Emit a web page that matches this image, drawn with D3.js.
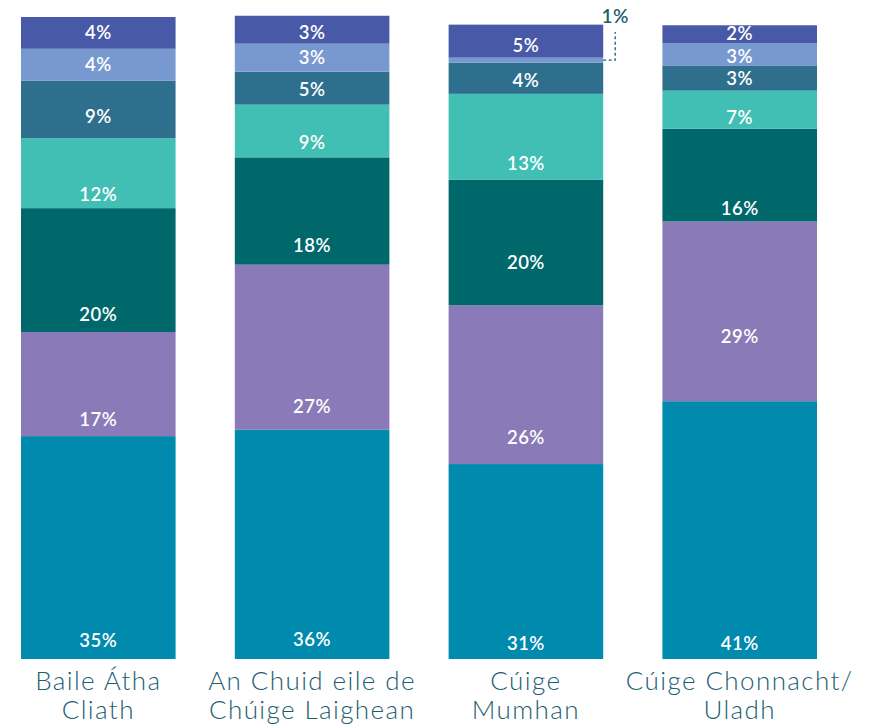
<!DOCTYPE html>
<html>
<head>
<meta charset="utf-8">
<script src="https://cdn.jsdelivr.net/npm/d3@7"></script>
<style>
  html, body { margin: 0; padding: 0; background: #fff; }
  svg { display: block; }
</style>
</head>
<body>
<svg id="chart" width="879" height="728"></svg>
<script>
// ---- Data ----
const categories = ["Baile Átha Cliath", "An Chuid eile de Chúige Laighean", "Cúige Mumhan", "Cúige Chonnacht/ Uladh"];
const categoryLines = [["Baile Átha", "Cliath"], ["An Chuid eile de", "Chúige Laighean"], ["Cúige", "Mumhan"], ["Cúige Chonnacht/", "Uladh"]];
const seriesKeys = ["s1", "s2", "s3", "s4", "s5", "s6", "s7"]; // bottom to top
// segment sizes (as drawn, %)
const s1 = [35.1, 36.1, 30.7, 40.6];
const s2 = [16.4, 26.0, 25.0, 28.3];
const s3 = [19.5, 16.9, 19.8, 14.6];
const s4 = [11.0, 8.3, 13.5, 6.0];
const s5 = [9.1, 5.2, 4.9, 3.9];
const s6 = [5.0, 4.4, 0.8, 3.6];
const s7 = [5.0, 4.4, 5.2, 2.8];
// printed labels (%)
const l1 = [35, 36, 31, 41];
const l2 = [17, 27, 26, 29];
const l3 = [20, 18, 20, 16];
const l4 = [12, 9, 13, 7];
const l5 = [9, 5, 4, 3];
const l6 = [4, 3, 1, 3];
const l7 = [4, 3, 5, 2];

// ---- Layout / style ----
const colors = ["#008AAD", "#8A7AB7", "#00686B", "#41BFB5", "#2F6F8E", "#7899CF", "#4859A7"];
// label position within segment (fraction from bottom), per series per category
const labelFrac = [
  [0.085, 0.083, 0.082, 0.06],
  [0.16, 0.14, 0.17, 0.36],
  [0.14, 0.18, 0.34, 0.14],
  [0.19, 0.28, 0.19, 0.29],
  [0.38, 0.45, 0.42, 0.5],
  [0.5, 0.5, null, 0.43],
  [0.5, 0.39, 0.36, 0.55]
];
const seriesValues = [s1, s2, s3, s4, s5, s6, s7];
const seriesLabels = [l1, l2, l3, l4, l5, l6, l7];

const rows = categories.map((c, i) => {
  const r = { cat: c, idx: i };
  seriesKeys.forEach((k, j) => r[k] = seriesValues[j][i]);
  return r;
});

const svg = d3.select("#chart");
const x = d3.scaleBand().domain(categories).range([21, 817]).paddingInner(0.277).paddingOuter(0);
const y = d3.scaleLinear().domain([0, 100]).range([659, 24]);

const stacked = d3.stack().keys(seriesKeys)(rows);

const groups = svg.append("g").selectAll("g")
  .data(stacked).join("g")
  .attr("fill", (d, i) => colors[i]);

groups.selectAll("rect")
  .data(d => d.map(p => ({ p, key: d.key })))
  .join("rect")
  .attr("x", d => x(d.p.data.cat))
  .attr("width", x.bandwidth())
  .attr("y", d => y(d.p[1]))
  .attr("height", d => y(d.p[0]) - y(d.p[1]));

// value labels
const labelFont = "Lato, 'Noto Sans', sans-serif";
stacked.forEach((layer, j) => {
  layer.forEach((p, i) => {
    const f = labelFrac[j][i];
    if (f === null) return;
    const yb = y(p[0]), yt = y(p[1]);
    const cy = yb - f * (yb - yt);
    svg.append("text")
      .attr("x", x(p.data.cat) + x.bandwidth() / 2)
      .attr("y", cy + 6.5)
      .attr("text-anchor", "middle")
      .attr("font-family", labelFont)
      .attr("font-weight", 600)
      .attr("font-size", 18.5)
      .attr("letter-spacing", 0.5)
      .attr("fill", "#ffffff")
      .text(seriesLabels[j][i] + "%");
  });
});

// callout for small segment (Cúige Mumhan, series 6)
{
  const j = 5, i = 2;
  const p = stacked[j][i];
  const ym = (y(p[0]) + y(p[1])) / 2;
  const xr = x(p.data.cat) + x.bandwidth();
  const xc = xr + 12;
  svg.append("path")
    .attr("d", `M${xr},${ym} H${xc} V32`)
    .attr("fill", "none")
    .attr("stroke", "#1d5d72")
    .attr("stroke-width", 1.3)
    .attr("stroke-dasharray", "3,2.5");
  svg.append("text")
    .attr("x", xc)
    .attr("y", 23)
    .attr("text-anchor", "middle")
    .attr("font-family", labelFont)
    .attr("font-weight", 600)
    .attr("font-size", 19)
    .attr("letter-spacing", 0.5)
    .attr("fill", "#1d5d72")
    .text(seriesLabels[j][i] + "%");
}

// category axis labels
const ax = svg.append("g");
categories.forEach((c, i) => {
  const cx = x(c) + x.bandwidth() / 2;
  const t = ax.append("text")
    .attr("x", cx)
    .attr("y", 690)
    .attr("text-anchor", "middle")
    .attr("font-family", labelFont)
    .attr("font-weight", 300)
    .attr("font-size", 26)
    .attr("letter-spacing", 1.4)
    .attr("fill", "#1d5d72");
  categoryLines[i].forEach((line, k) => {
    t.append("tspan")
      .attr("x", cx)
      .attr("dy", k === 0 ? 0 : 29)
      .text(line);
  });
});
</script>
</body>
</html>
